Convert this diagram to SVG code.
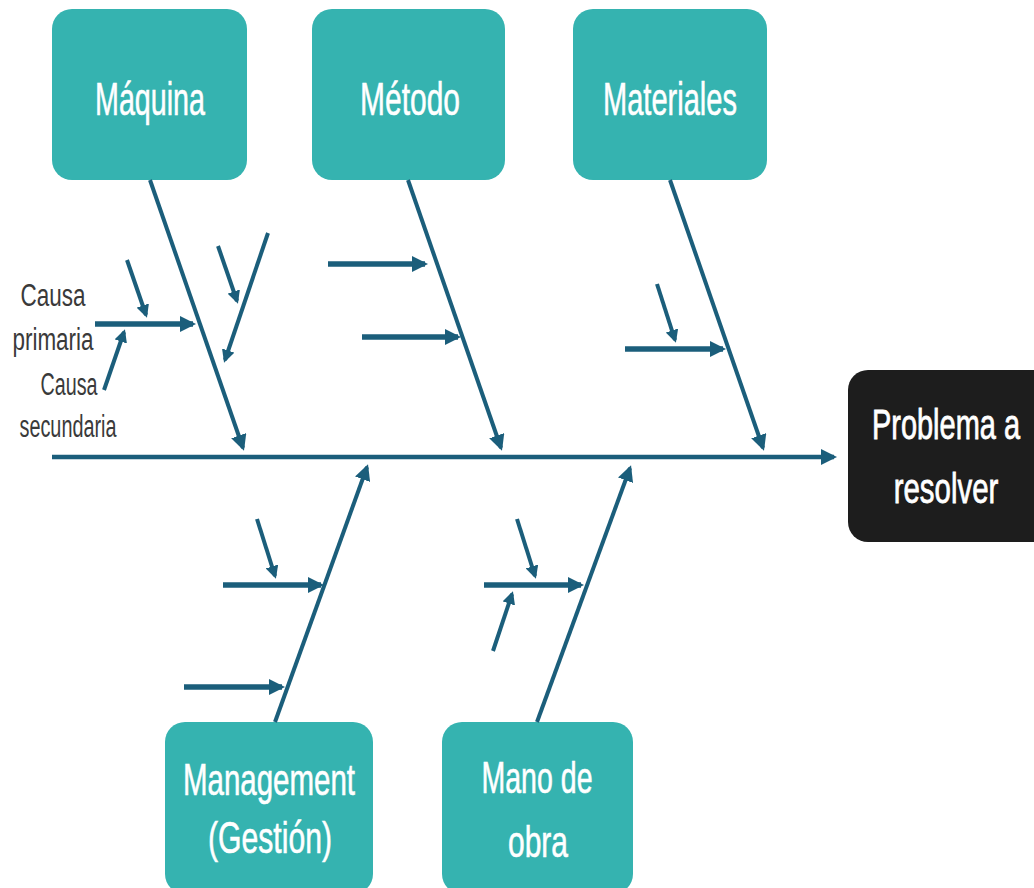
<svg xmlns="http://www.w3.org/2000/svg" width="1034" height="888" viewBox="0 0 1034 888">
  <style>
    .cat rect { fill: #35b3b0; }
    .cat text { fill: #ffffff; stroke: #ffffff; stroke-width: 0.6; font-family: "Liberation Sans", Arial, sans-serif; text-anchor: middle; }
    .goal path { fill: #1d1d1d; }
    .goal text { fill: #ffffff; stroke: #ffffff; stroke-width: 0.8; font-family: "Liberation Sans", Arial, sans-serif; font-size: 42px; text-anchor: middle; }
    .note { fill: #3a3a3a; font-family: "Liberation Sans", Arial, sans-serif; font-size: 31px; text-anchor: middle; }
    .bone, .spine, .pri, .sec { stroke: #1b5e7b; fill: none; stroke-linecap: butt; }
    .spine { stroke-width: 4.5; }
    .bone { stroke-width: 4; }
    .pri { stroke-width: 5.5; }
    .sec { stroke-width: 4; }
  </style>
  <defs>
    <marker id="ah" viewBox="0 0 16 16" refX="13" refY="8" markerWidth="16" markerHeight="16" markerUnits="userSpaceOnUse" orient="auto">
      <path d="M0,0 L16,8 L0,16 z" fill="#1b5e7b"/>
    </marker>
    <marker id="ahs" viewBox="0 0 13 13" refX="10" refY="6.5" markerWidth="13" markerHeight="13" markerUnits="userSpaceOnUse" orient="auto">
      <path d="M0,0 L13,6.5 L0,13 z" fill="#1b5e7b"/>
    </marker>
  </defs>

  <!-- category boxes -->
  <g id="maquina" class="cat">
    <rect x="52" y="9" width="195" height="171" rx="20"/>
    <text x="150" y="115" font-size="47" textLength="110" lengthAdjust="spacingAndGlyphs">Máquina</text>
  </g>
  <g id="metodo" class="cat">
    <rect x="312" y="9" width="193" height="171" rx="20"/>
    <text x="410" y="115" font-size="47" textLength="100" lengthAdjust="spacingAndGlyphs">Método</text>
  </g>
  <g id="materiales" class="cat">
    <rect x="573" y="9" width="194" height="171" rx="20"/>
    <text x="670" y="115" font-size="47" textLength="134" lengthAdjust="spacingAndGlyphs">Materiales</text>
  </g>
  <g id="management" class="cat">
    <rect x="165" y="722" width="208" height="172" rx="20"/>
    <text x="269" y="795" font-size="45" textLength="172" lengthAdjust="spacingAndGlyphs">Management</text>
    <text x="270" y="853" font-size="45" textLength="124" lengthAdjust="spacingAndGlyphs">(Gestión)</text>
  </g>
  <g id="mano-de-obra" class="cat">
    <rect x="442" y="722" width="191" height="172" rx="20"/>
    <text x="537" y="793" font-size="44" textLength="111" lengthAdjust="spacingAndGlyphs">Mano de</text>
    <text x="538" y="857" font-size="44" textLength="60" lengthAdjust="spacingAndGlyphs">obra</text>
  </g>
  <!-- effect box runs to the right edge; its text is narrowed by a horizontal scale -->
  <g id="problema" class="goal">
    <path d="M868,370 H1034 V542 H868 A20,20 0 0 1 848,522 V390 A20,20 0 0 1 868,370 Z"/>
    <text transform="translate(946 439) scale(0.69 1)" x="0" y="0">Problema a</text>
    <text transform="translate(946 503) scale(0.70 1)" x="0" y="0">resolver</text>
  </g>

  <!-- legend labels -->
  <g id="legend">
    <text class="note" x="53" y="306" textLength="65" lengthAdjust="spacingAndGlyphs">Causa</text>
    <text class="note" x="53" y="350" textLength="81" lengthAdjust="spacingAndGlyphs">primaria</text>
    <text class="note" x="69" y="395" textLength="57" lengthAdjust="spacingAndGlyphs">Causa</text>
    <text class="note" x="68" y="437" textLength="97" lengthAdjust="spacingAndGlyphs">secundaria</text>
  </g>

  <!-- connectors -->
  <g id="connectors">
    <!-- spine -->
    <line class="spine" x1="52" y1="457" x2="834" y2="457" marker-end="url(#ah)"/>

    <!-- main bones -->
    <line class="bone" x1="150" y1="180" x2="243" y2="448" marker-end="url(#ah)"/>
    <line class="bone" x1="408" y1="180" x2="501" y2="448" marker-end="url(#ah)"/>
    <line class="bone" x1="670" y1="180" x2="763" y2="448" marker-end="url(#ah)"/>
    <line class="bone" x1="275" y1="722" x2="367" y2="467" marker-end="url(#ah)"/>
    <line class="bone" x1="537" y1="722" x2="630" y2="468" marker-end="url(#ah)"/>

    <!-- Máquina causes -->
    <line class="pri" x1="95" y1="324" x2="193" y2="324" marker-end="url(#ah)"/>
    <line class="sec" x1="127" y1="260" x2="146" y2="315" marker-end="url(#ahs)"/>
    <line class="sec" x1="104" y1="390" x2="124" y2="332" marker-end="url(#ahs)"/>
    <line class="sec" x1="268" y1="233" x2="225" y2="360" marker-end="url(#ahs)"/>
    <line class="sec" x1="218" y1="246" x2="237" y2="301" marker-end="url(#ahs)"/>

    <!-- Método causes -->
    <line class="pri" x1="328" y1="264" x2="425" y2="264" marker-end="url(#ah)"/>
    <line class="pri" x1="362" y1="337" x2="458" y2="337" marker-end="url(#ah)"/>

    <!-- Materiales causes -->
    <line class="pri" x1="625" y1="349" x2="723" y2="349" marker-end="url(#ah)"/>
    <line class="sec" x1="657" y1="284" x2="675" y2="340" marker-end="url(#ahs)"/>

    <!-- Management causes -->
    <line class="pri" x1="223" y1="585" x2="321" y2="585" marker-end="url(#ah)"/>
    <line class="sec" x1="257" y1="519" x2="275" y2="576" marker-end="url(#ahs)"/>
    <line class="pri" x1="184" y1="687" x2="282" y2="687" marker-end="url(#ah)"/>

    <!-- Mano de obra causes -->
    <line class="pri" x1="484" y1="585" x2="581" y2="585" marker-end="url(#ah)"/>
    <line class="sec" x1="517" y1="519" x2="535" y2="576" marker-end="url(#ahs)"/>
    <line class="sec" x1="493" y1="651" x2="512" y2="594" marker-end="url(#ahs)"/>
  </g>
</svg>
